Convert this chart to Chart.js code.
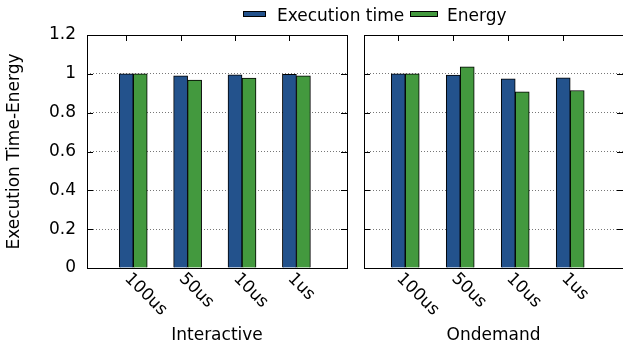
<!DOCTYPE html>
<html>
<head>
<meta charset="utf-8">
<script src="https://cdn.jsdelivr.net/npm/chart.js@4.4.1/dist/chart.umd.min.js"></script>
<style>
  html, body { margin: 0; padding: 0; background: #fff; }
  #wrap { position: relative; width: 623px; height: 350px; overflow: hidden; font-family: 'DejaVu Sans', sans-serif; }
  #left { position: absolute; left: 0; top: 0; width: 355px; height: 350px; }
  #right { position: absolute; left: 355px; top: 0; width: 268px; height: 350px; }
  .swatch { position: absolute; top: 11px; height: 4px; border: 1px solid #000; }
  .label { position: absolute; top: 5px; font-size: 17px; line-height: 20px; color: #000; white-space: nowrap; }
</style>
</head>
<body>
<div id="wrap">
  <canvas id="left" width="355" height="350"></canvas>
  <canvas id="right" width="268" height="350"></canvas>
  <div id="legend"></div>
</div>
<script>
// categories and series
const categories = ['100us', '50us', '10us', '1us'];
const seriesNames = ['Execution time', 'Energy'];
const interactiveTime = [1.0, 0.99, 0.995, 0.998];
const interactiveEnergy = [1.0, 0.968, 0.978, 0.99];
const ondemandTime = [1.0, 0.993, 0.974, 0.979];
const ondemandEnergy = [1.0, 1.036, 0.907, 0.914];
const yTicks = [0, 0.2, 0.4, 0.6, 0.8, 1, 1.2];

const colors = ['#23528c', '#43993e'];
const fontFamily = "'DejaVu Sans', sans-serif";

Chart.defaults.font.family = fontFamily;
Chart.defaults.font.size = 17;
Chart.defaults.color = '#000';

function points(values) {
    return values.map((v, i) => ({ x: i, y: v }));
}

function datasets(time, energy) {
    return [time, energy].map((vals, k) => ({
        label: seriesNames[k],
        data: points(vals),
        backgroundColor: colors[k],
        borderColor: '#000',
        borderWidth: 1,
        barThickness: 14
    }));
}

// box round the plot, inner tick marks and slanted category names
const framePlugin = {
    id: 'frame',
    afterDatasetsDraw(chart) {
        const { ctx, chartArea: a, scales } = chart;
        ctx.save();
        ctx.strokeStyle = '#000';
        ctx.lineWidth = 1;
        ctx.beginPath();
        scales.y.ticks.forEach(t => {
            const y = Math.round(scales.y.getPixelForValue(t.value)) + 0.5;
            ctx.moveTo(a.left, y); ctx.lineTo(a.left + 6, y);
            ctx.moveTo(a.right - 6, y); ctx.lineTo(a.right, y);
        });
        const bars = chart.getDatasetMeta(0).data;
        bars.forEach(bar => {
            const x = Math.round(bar.x) + 0.5;
            ctx.moveTo(x, a.top); ctx.lineTo(x, a.top + 6);
        });
        ctx.stroke();
        ctx.strokeRect(a.left + 0.5, a.top + 0.5, a.right - a.left, a.bottom - a.top);

        ctx.font = '17px ' + fontFamily;
        ctx.fillStyle = '#000';
        ctx.textAlign = 'left';
        ctx.textBaseline = 'middle';
        bars.forEach((bar, i) => {
            ctx.save();
            ctx.translate(bar.x + 1, a.bottom + 8);
            ctx.rotate(Math.PI / 4);
            ctx.fillText(categories[i], 0, 0);
            ctx.restore();
        });
        ctx.restore();
    }
};

function panel(id, title, time, energy, opts) {
    return new Chart(document.getElementById(id), {
        type: 'bar',
        data: { datasets: datasets(time, energy) },
        plugins: [framePlugin],
        options: {
            responsive: false,
            animation: false,
            layout: { padding: { top: 35, right: opts.padRight, left: 0, bottom: 0 } },
            plugins: { legend: { display: false }, tooltip: { enabled: false } },
            scales: {
                x: {
                    type: 'linear',
                    min: opts.xMin,
                    max: opts.xMax,
                    offset: false,
                    grid: { display: false, offset: false },
                    border: { display: false },
                    ticks: { display: false },
                    title: { display: true, text: title, padding: { top: 0, bottom: 4 } },
                    afterFit: s => { s.height = 82; }
                },
                y: {
                    min: 0,
                    max: 1.2,
                    afterBuildTicks: s => { s.ticks = yTicks.map(v => ({ value: v })); },
                    grid: { color: '#777', drawTicks: false },
                    border: { display: false, dash: [1, 2] },
                    ticks: { display: opts.showY, padding: 11, callback: v => String(v) },
                    title: { display: opts.showY, text: 'Execution Time-Energy', padding: { top: 4, bottom: 0 } },
                    afterFit: s => { s.width = opts.yWidth; }
                }
            }
        }
    });
}

panel('left', 'Interactive', interactiveTime, interactiveEnergy,
    { xMin: -0.85, xMax: 3.93, padRight: 8, yWidth: 87, showY: true });
panel('right', 'Ondemand', ondemandTime, ondemandEnergy,
    { xMin: -0.75, xMax: 3.96, padRight: 0, yWidth: 9, showY: false });

// key across the top
const legend = document.getElementById('legend');
const keyPos = [{ box: 243, w: 21, text: 277 }, { box: 410, w: 26, text: 447 }];
seriesNames.forEach((name, k) => {
    const sw = document.createElement('div');
    sw.className = 'swatch';
    sw.style.left = keyPos[k].box + 'px';
    sw.style.width = keyPos[k].w + 'px';
    sw.style.background = colors[k];
    legend.appendChild(sw);
    const tx = document.createElement('div');
    tx.className = 'label';
    tx.style.left = keyPos[k].text + 'px';
    tx.textContent = name;
    legend.appendChild(tx);
});
</script>
</body>
</html>
